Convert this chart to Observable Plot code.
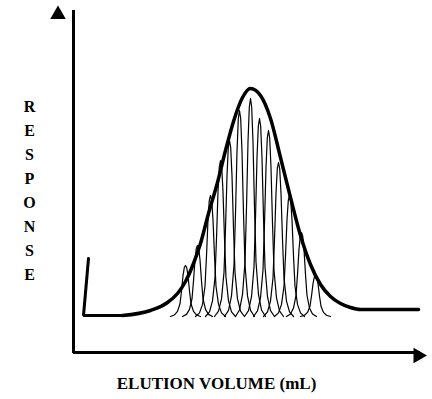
<!DOCTYPE html>
<html>
<head>
<meta charset="utf-8">
<script src="https://cdn.jsdelivr.net/npm/d3@7"></script>
<script src="https://cdn.jsdelivr.net/npm/@observablehq/plot@0.6"></script>
<style>
  html, body { margin: 0; padding: 0; background: #fff; }
  svg { display: block; }
</style>
</head>
<body>
<div id="chart"></div>
<script>
// Injection spike + flat start of baseline (elution volume mL, response)
const spikeX = [1.4, 0.9, 4.8];
const spikeY = [9.3, 3.6, 3.6];

// Thick envelope (overall response)
const envX = [4.8, 7.6, 9.3, 10.3, 11.1, 11.9, 12.6, 13.4, 14.3, 15.1, 15.9, 16.8, 17.6, 18.6, 19.6, 20.6, 21.6, 22.6, 23.6, 24.6, 25.6, 26.6, 27.6, 28.6, 34.4];
const envY = [3.6, 4.1, 4.9, 5.8, 7.0, 8.8, 10.8, 13.8, 16.9, 20.1, 23.0, 25.4, 26.3, 25.6, 23.3, 19.4, 15.4, 11.6, 8.7, 6.7, 5.5, 4.8, 4.4, 4.2, 4.2];

// Narrow component peaks: centers and heights
const peakCenters = [11.1, 12.3, 13.6, 14.6, 15.5, 16.5, 17.6, 18.5, 19.4, 20.4, 21.5, 22.7, 24.1];
const peakTops    = [8.6, 10.6, 15.6, 19.1, 21.1, 24.1, 25.3, 23.3, 22.1, 18.9, 15.6, 11.9, 7.6];
const peakBase = 3.5;
// Shared narrow-peak profile (offset from center, fraction of height)
const profileDx   = [-1.5, -1.1, -0.8, -0.55, -0.4, -0.25, -0.12, 0, 0.12, 0.25, 0.4, 0.55, 0.8, 1.1, 1.5];
const profileFrac = [0, 0.03, 0.1, 0.25, 0.5, 0.8, 0.96, 1, 0.96, 0.8, 0.5, 0.25, 0.1, 0.03, 0];

// Axis arrowheads
const arrowX = [-1.65, 34.35];
const arrowY = [33.7, -0.4];
const arrowRot = [0, 90];

const yLabel = "RESPONSE";
const xLabel = "ELUTION VOLUME (mL)";

const spike = spikeX.map((x, i) => ({x, y: spikeY[i]}));
const env = envX.map((x, i) => ({x, y: envY[i]}));
const peaks = [];
peakCenters.forEach((c, k) => {
  profileDx.forEach((d, i) => {
    peaks.push({k, x: c + d, y: peakBase + (peakTops[k] - peakBase) * profileFrac[i]});
  });
});
const arrows = arrowX.map((x, i) => ({x, y: arrowY[i], r: arrowRot[i]}));

const font = "'Liberation Serif', 'Times New Roman', serif";

const chart = Plot.plot({
  width: 432,
  height: 399,
  marginLeft: 74,
  marginRight: 8,
  marginTop: 11,
  marginBottom: 48,
  x: {domain: [0, 35], axis: null},
  y: {domain: [0, 34], axis: null},
  style: {fontFamily: font, background: "#fff"},
  marks: [
    Plot.ruleX([-0.1], {y1: -0.2, y2: 34.1, stroke: "black", strokeWidth: 3}),
    Plot.ruleY([-0.1], {x1: -0.1, x2: 34.6, stroke: "black", strokeWidth: 3}),
    Plot.dot(arrows, {x: "x", y: "y", rotate: "r", symbol: "triangle", r: 5.8, fill: "black", stroke: null}),
    Plot.line(peaks, {x: "x", y: "y", z: "k", stroke: "black", strokeWidth: 1.2, curve: "linear"}),
    Plot.line(spike, {x: "x", y: "y", stroke: "black", strokeWidth: 3, strokeLinejoin: "miter"}),
    Plot.line(env, {x: "x", y: "y", stroke: "black", strokeWidth: 3.5, curve: "monotone-x"}),
    Plot.text([yLabel.split("").join("\n")], {
      frameAnchor: "left", dx: -45, dy: 7, textAnchor: "middle", lineAnchor: "middle",
      lineHeight: 1.5, fontSize: 16, fontWeight: "bold", fill: "black"
    }),
    Plot.text([xLabel], {
      frameAnchor: "bottom", dx: -33, dy: 32, textAnchor: "middle", lineAnchor: "middle",
      fontSize: 17, fontWeight: "bold", fill: "black"
    })
  ]
});
document.getElementById("chart").appendChild(chart);
</script>
</body>
</html>
